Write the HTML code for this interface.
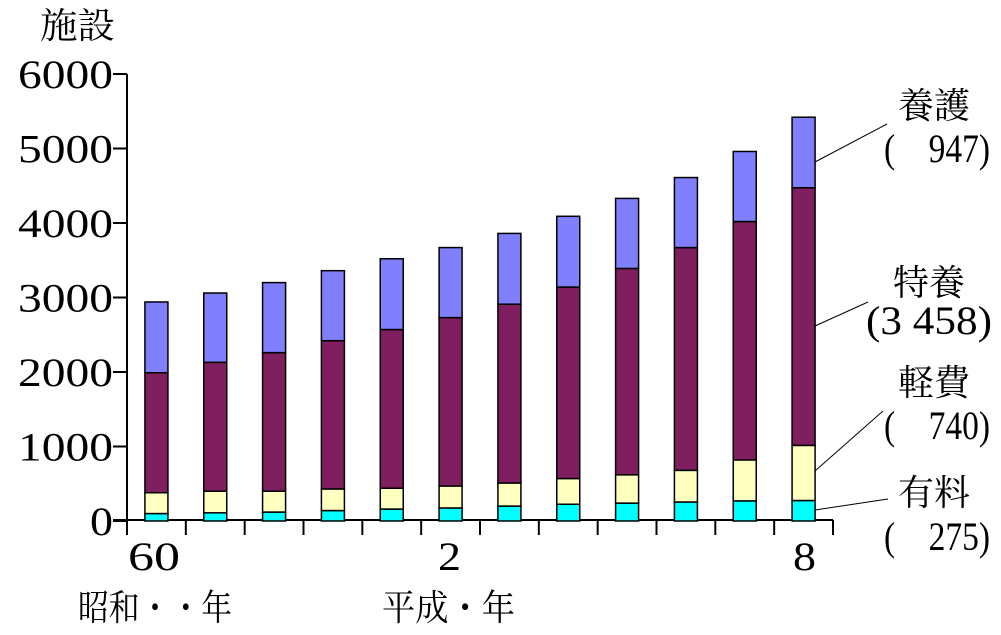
<!DOCTYPE html>
<html><head><meta charset="utf-8"><style>
body{margin:0;background:#fff;}
svg text{font-family:"Liberation Serif","Noto Serif CJK SC","Noto Sans CJK JP",serif;font-size:36px;fill:#000;}
svg text.num{font-size:40px;}
</style></head><body>
<svg id="chart" width="1001" height="630" viewBox="0 0 1001 630" xmlns="http://www.w3.org/2000/svg">
<text x="40" y="38" textLength="75" lengthAdjust="spacingAndGlyphs">施設</text>
<g id="axes"></g>
<g id="bars"></g>
<text class="num" x="128" y="570" textLength="52" lengthAdjust="spacingAndGlyphs">60</text>
<text class="num" x="438" y="570" textLength="23" lengthAdjust="spacingAndGlyphs">2</text>
<text class="num" x="793" y="570" textLength="23" lengthAdjust="spacingAndGlyphs">8</text>
<text x="78" y="620" textLength="154" lengthAdjust="spacingAndGlyphs">昭和・・年</text>
<text x="382" y="620" textLength="133" lengthAdjust="spacingAndGlyphs">平成・年</text>
<g stroke="#000" stroke-width="1">
<line x1="815" y1="162" x2="887" y2="124"/>
<line x1="815" y1="326" x2="868" y2="302"/>
<line x1="815" y1="471" x2="883" y2="411"/>
<line x1="815" y1="510" x2="888" y2="499"/>
</g>
<text x="898" y="118" textLength="72" lengthAdjust="spacingAndGlyphs">養護</text>
<text class="num" x="884" y="162" textLength="106" lengthAdjust="spacingAndGlyphs">(　947)</text>
<text x="893" y="295" textLength="72" lengthAdjust="spacingAndGlyphs">特養</text>
<text class="num" x="866" y="334" textLength="126" lengthAdjust="spacingAndGlyphs">(3 458)</text>
<text x="898" y="395" textLength="72" lengthAdjust="spacingAndGlyphs">軽費</text>
<text class="num" x="884" y="439" textLength="106" lengthAdjust="spacingAndGlyphs">(　740)</text>
<text x="898" y="505" textLength="72" lengthAdjust="spacingAndGlyphs">有料</text>
<text class="num" x="884" y="550" textLength="106" lengthAdjust="spacingAndGlyphs">(　275)</text>
</svg>
<script>
const categories = ["S60","S61","S62","S63","H1","H2","H3","H4","H5","H6","H7","H8"];
const yuryo  = [100,110,120,140,160,175,200,225,240,255,270,275];
const keihi  = [280,290,280,290,280,295,310,345,380,425,550,740];
const tokuyo = [1610,1730,1860,1990,2130,2260,2400,2570,2770,2990,3200,3458];
const yogo   = [950,930,940,940,950,940,950,950,940,940,940,947];
const yTicks = [0,1000,2000,3000,4000,5000,6000];
const NS="http://www.w3.org/2000/svg";
const x0=127,x1=833,y0=521,yTop=74,yMax=6000;
const band=(x1-x0)/categories.length;
const barW=23;
function yScale(v){return y0-(v/yMax)*(y0-yTop);}
function xCenter(i){return x0+band*(i+0.5);}
const axes=document.getElementById('axes');
function mk(tag,attrs,parent){const e=document.createElementNS(NS,tag);for(const k in attrs)e.setAttribute(k,attrs[k]);parent.appendChild(e);return e;}
let l=mk('line',{x1:x0,y1:yTop,x2:x0,y2:y0,stroke:'#000','stroke-width':2},axes);


l=mk('line',{x1:x0-14,y1:y0-1,x2:x1,y2:y0-1,stroke:'#000','stroke-width':2},axes);


yTicks.forEach(v=>{
  const y=yScale(v);
  const t=mk('line',{x1:x0-14,y1:y,x2:x0,y2:y,stroke:'#000','stroke-width':2},axes);
  
  
  const s=String(v);
  const tx=mk('text',{x:113,y:y+14,'text-anchor':'end','class':'num',textLength:24*s.length-1,lengthAdjust:'spacingAndGlyphs'},axes);
  tx.textContent=s;
  
  
});
for(let i=0;i<=categories.length;i++){
  const x=x0+band*i;
  const t=mk('line',{x1:x,y1:y0-1,x2:x,y2:y0+14,stroke:'#000','stroke-width':2},axes);
  
  
}
const bars=document.getElementById('bars');
const series=[[yuryo,'#00ffff','yuryo'],[keihi,'#ffffc0','keihi'],[tokuyo,'#7f1f5f','tokuyo'],[yogo,'#8080ff','yogo']];
categories.forEach((c,i)=>{
  let cum=0;
  series.forEach(([arr,col,nm])=>{
    const top=yScale(cum+arr[i]),bot=yScale(cum);
    cum+=arr[i];
    const r=mk('rect',{x:xCenter(i)-barW/2,y:top,width:barW,height:bot-top,fill:col,stroke:'#000','stroke-width':1.5},bars);
    
    
  });
});
</script>
</body></html>
